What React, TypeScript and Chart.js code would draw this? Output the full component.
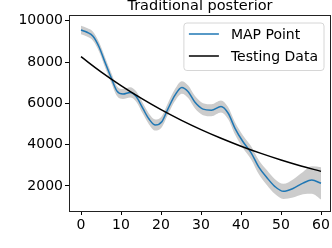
import React, { useEffect, useRef } from "react";
import { Chart, registerables } from "chart.js";

Chart.register(...registerables);

const TITLE = "Traditional posterior";
const MAP_LABEL = "MAP Point";
const TEST_LABEL = "Testing Data";

const mapX = [0, 1.5, 3, 4.5, 6, 7.5, 9, 10.5, 12.3, 13.8, 15.5, 17, 18.6, 20.2, 21.8, 23.5, 25.2, 26.8, 28.5, 30.5, 32.6, 35, 36.8, 38.5, 40.5, 42.5, 44.5, 46.5, 48.5, 50.6, 53, 55.5, 57.7, 60];
const mapY = [9550, 9440, 9250, 8740, 7990, 7260, 6590, 6450, 6530, 6330, 5740, 5240, 4950, 5110, 5760, 6400, 6770, 6560, 6050, 5720, 5670, 5850, 5520, 4790, 4140, 3620, 2900, 2400, 1970, 1740, 1880, 2140, 2290, 2130];
const bandUpper = [9760, 9650, 9470, 8970, 8230, 7500, 6830, 6690, 6780, 6580, 6000, 5500, 5220, 5380, 6040, 6690, 7070, 6860, 6350, 6010, 5960, 6140, 5810, 5090, 4450, 3940, 3240, 2760, 2330, 2110, 2320, 2680, 2950, 2910];
const bandLower = [9340, 9230, 9030, 8510, 7750, 7020, 6350, 6210, 6280, 6080, 5480, 4980, 4680, 4840, 5480, 6110, 6470, 6260, 5750, 5430, 5380, 5560, 5230, 4490, 3830, 3300, 2560, 2040, 1610, 1370, 1440, 1600, 1630, 1350];

const testX = [0, 5, 10, 15, 20, 25, 30, 35, 40, 45, 50, 55, 60];
const testY = [8257, 7525, 6857, 6249, 5694, 5189, 4729, 4310, 3927, 3579, 3261, 2972, 2708];

const xTicks = [0, 10, 20, 30, 40, 50, 60];
const yTicks = [2000, 4000, 6000, 8000, 10000];

const FONT = "DejaVu Sans";

export default function App() {
  const ref = useRef<HTMLCanvasElement | null>(null);
  useEffect(() => {
    if (!ref.current) return;
    const pts = (xs: number[], ys: number[]) => xs.map((x, i) => ({ x, y: ys[i] }));

    const framePlugin = {
      id: "frame",
      afterDatasetsDraw(chart: any) {
        const { ctx, chartArea: a } = chart;
        ctx.save();
        ctx.strokeStyle = "#222";
        ctx.lineWidth = 1;
        ctx.strokeRect(a.left + 0.5, a.top + 0.5, a.right - a.left - 1, a.bottom - a.top);
        ctx.restore();
      },
    };

    const titlePlugin = {
      id: "mtitle",
      afterDraw(chart: any) {
        const { ctx, chartArea: a } = chart;
        ctx.save();
        ctx.font = `14.5px "${FONT}"`;
        ctx.fillStyle = "#000";
        ctx.textAlign = "center";
        ctx.textBaseline = "alphabetic";
        ctx.fillText(TITLE, (a.left + a.right) / 2, a.top - 5);
        ctx.restore();
      },
    };

    const legendPlugin = {
      id: "mlegend",
      afterDraw(chart: any) {
        const { ctx, chartArea: a } = chart;
        const items = [
          { label: MAP_LABEL, color: "#1f77b4" },
          { label: TEST_LABEL, color: "#000000" },
        ];
        ctx.save();
        ctx.font = `14px "${FONT}"`;
        const tw = Math.max(...items.map((it) => ctx.measureText(it.label).width));
        const w = 5 + 30 + 12 + tw + 6;
        const h = 47.5;
        const right = a.right - 7;
        const left = right - w;
        const top = a.top + 8;
        const r = 3;
        ctx.beginPath();
        ctx.moveTo(left + r, top);
        ctx.lineTo(right - r, top);
        ctx.arcTo(right, top, right, top + r, r);
        ctx.lineTo(right, top + h - r);
        ctx.arcTo(right, top + h, right - r, top + h, r);
        ctx.lineTo(left + r, top + h);
        ctx.arcTo(left, top + h, left, top + h - r, r);
        ctx.lineTo(left, top + r);
        ctx.arcTo(left, top, left + r, top, r);
        ctx.closePath();
        ctx.fillStyle = "rgba(255,255,255,0.8)";
        ctx.fill();
        ctx.strokeStyle = "#d6d6d6";
        ctx.lineWidth = 1;
        ctx.stroke();
        items.forEach((it, i) => {
          const y = top + 11 + i * 22;
          ctx.strokeStyle = it.color;
          ctx.lineWidth = 1.5;
          ctx.beginPath();
          ctx.moveTo(left + 5, y);
          ctx.lineTo(left + 35, y);
          ctx.stroke();
          ctx.fillStyle = "#000";
          ctx.textAlign = "left";
          ctx.textBaseline = "middle";
          ctx.fillText(it.label, left + 47, y + 1);
        });
        ctx.restore();
      },
    };

    const chart = new Chart(ref.current, {
      type: "line",
      data: {
        datasets: [
          {
            label: TEST_LABEL,
            data: pts(testX, testY),
            borderColor: "#000000",
            borderWidth: 1.5,
            pointRadius: 0,
            tension: 0.4,
            fill: false,
            order: 0,
          },
          {
            label: MAP_LABEL,
            data: pts(mapX, mapY),
            borderColor: "#1f77b4",
            borderWidth: 1.5,
            pointRadius: 0,
            cubicInterpolationMode: "monotone",
            fill: false,
            order: 1,
          },
          {
            label: "upper",
            data: pts(mapX, bandUpper),
            borderColor: "rgba(0,0,0,0)",
            borderWidth: 0,
            backgroundColor: "#cccccc",
            pointRadius: 0,
            cubicInterpolationMode: "monotone",
            fill: "+1",
            order: 2,
          },
          {
            label: "lower",
            data: pts(mapX, bandLower),
            borderColor: "rgba(0,0,0,0)",
            borderWidth: 0,
            pointRadius: 0,
            cubicInterpolationMode: "monotone",
            fill: false,
            order: 3,
          },
        ],
      },
      options: {
        responsive: false,
        animation: false,
        devicePixelRatio: 1,
        layout: { padding: { left: 0, right: 1, top: 15, bottom: 0 } },
        plugins: {
          legend: { display: false },
          title: { display: false },
          tooltip: { enabled: false },
        },
        scales: {
          x: {
            type: "linear",
            min: -3,
            max: 62.5,
            afterBuildTicks: (s: any) => {
              s.ticks = xTicks.map((v) => ({ value: v }));
            },
            afterFit: (s: any) => {
              s.height = 37;
            },
            border: { display: false },
            grid: { drawOnChartArea: false, drawTicks: true, tickLength: 4, color: "#000", tickWidth: 1 },
            ticks: {
              font: { family: FONT, size: 14 },
              color: "#000",
              padding: 2,
              maxRotation: 0,
              callback: (v: any) => String(v),
            },
          },
          y: {
            type: "linear",
            min: 790,
            max: 10276,
            afterBuildTicks: (s: any) => {
              s.ticks = yTicks.map((v) => ({ value: v }));
            },
            afterFit: (s: any) => {
              s.width = 69;
            },
            border: { display: false },
            grid: { drawOnChartArea: false, drawTicks: true, tickLength: 4, color: "#000", tickWidth: 1 },
            ticks: {
              font: { family: FONT, size: 14 },
              color: "#000",
              padding: 2,
              callback: (v: any) => String(v),
            },
          },
        },
      },
      plugins: [framePlugin, titlePlugin, legendPlugin],
    } as any);
    return () => chart.destroy();
  }, []);

  return (
    <div style={{ position: "absolute", left: 0, top: 0, width: 332, height: 248 }}>
      <canvas ref={ref} width={332} height={248} style={{ width: 332, height: 248 }} />
    </div>
  );
}
